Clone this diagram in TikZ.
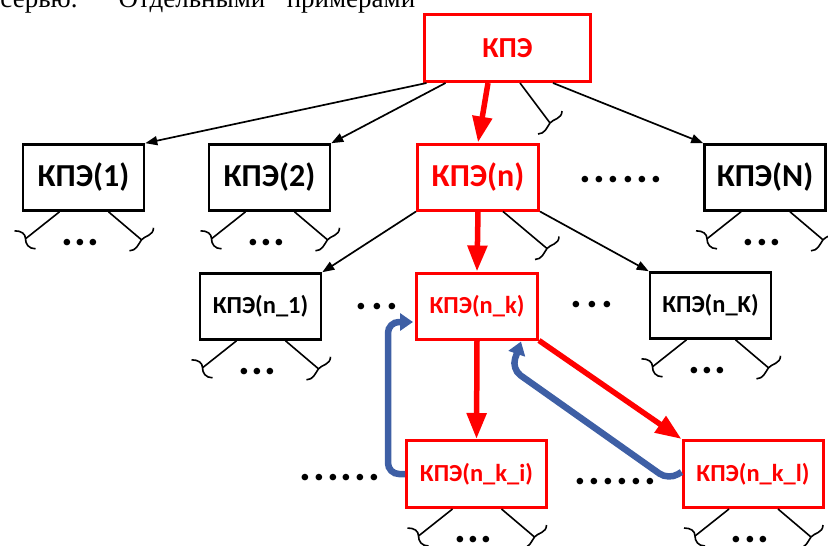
\documentclass[tikz,border=0pt]{standalone}
\usepackage{fontspec}
\setmainfont{Carlito}
\newfontfamily\serifface{Liberation Serif}
\usetikzlibrary{arrows.meta,calc}
\definecolor{kpred}{RGB}{255,0,0}
\definecolor{kpblue}{RGB}{62,95,165}

% a row of bold dots, #1 dots, #2 extra gap between them
\newcommand{\dotline}[2]{.\foreach\i in {2,...,#1}{\kern#2.}}

\tikzset{
  box/.style={draw=black, line width=2.6pt, minimum width=121pt, minimum height=66pt,
    inner sep=0pt, font=\bfseries\fontsize{32}{34}\selectfont},
  smallbox/.style={box, font=\bfseries\fontsize{24.5}{28}\selectfont},
  hot/.style={draw=kpred, text=kpred, line width=3pt},
  widebox/.style={minimum width=140pt, minimum height=67pt},
  link/.style={draw=black, line width=1.7pt, -{Triangle[length=12pt,width=9pt]}},
  hotlink/.style={draw=kpred, line width=5.5pt, -{Triangle[length=26pt,width=19pt]}},
  backlink/.style={draw=kpblue, line width=6.5pt, rounded corners=11pt,
    -{Triangle[length=13pt,width=17pt]}},
  twig/.style={draw=black, line width=1.6pt},
  dotrow/.style={inner sep=0pt, font=\bfseries\fontsize{44}{46}\selectfont},
  cutL/.pic={\draw[twig] (-11,-8) .. controls (-4,-8) and (0,-5) .. (0,0)
      .. controls (0,5) and (3,10) .. (10,10);},
  cutR/.pic={\draw[twig] (-12,11) .. controls (-5,11) and (-3,4) .. (0,0)
      .. controls (3,-4) and (12,-4) .. (12,-12);},
}

% the two cut-off sub-branches and the dots beneath a box
\newcommand{\subtree}[1]{%
  \draw[twig] ($(#1.south)+(-24,0)$) -- ($(#1.south)+(-58,27)$) pic{cutL};
  \draw[twig] ($(#1.south)+(25,0)$) -- ($(#1.south)+(58,28)$) pic{cutR};
  \node[dotrow] (#1-more) at ($(#1.south)+(-3,31)$) {\dotline{3}{1.5pt}};
}

\begin{document}
\begin{tikzpicture}[x=1pt,y=-1pt]
\useasboundingbox (0,0) rectangle (828,546);

% running text above the figure
\begin{scope}[every node/.style={anchor=base, inner sep=0pt,
    font=\serifface\fontsize{27}{30}\selectfont}]
  \node (w1) at (39,7) {серью.};
  \node (w2) at (192,7) {Отдельными};
  \node (w3) at (351,7) {примерами};
\end{scope}

% level 0
\node[box, hot, minimum width=166pt, minimum height=67pt,
  font=\bfseries\fontsize{29}{32}\selectfont] (top) at (507.5,48) {КПЭ};

% level 1
\node[box] (k1) at (83.5,177.5) {КПЭ(1)};
\node[box] (k2) at (269.5,177.5) {КПЭ(2)};
\node[box, hot] (kn) at (478,177) {КПЭ(n)};
\node[box] (kN) at (765,177.5) {КПЭ(N)};
\node[dotrow] (d1) at (621,180) {\dotline{6}{2.5pt}};

% level 2
\node[smallbox] (kn1) at (260.5,306.5) {КПЭ(n\_1)};
\node[smallbox, hot] (knk) at (477,306) {КПЭ(n\_k)};
\node[smallbox] (knK) at (710.5,305.5) {КПЭ(n\_K)};
\node[dotrow] (d2) at (377,307) {\dotline{3}{3.5pt}};
\node[dotrow] (d3) at (592,305) {\dotline{3}{3.5pt}};

% level 3
\node[smallbox, hot, widebox] (knki) at (476.5,474) {КПЭ(n\_k\_i)};
\node[smallbox, hot, widebox] (knkl) at (753,474) {КПЭ(n\_k\_l)};
\node[dotrow] (d4) at (340,478) {\dotline{6}{2pt}};
\node[dotrow] (d5) at (615.5,482) {\dotline{6}{2.2pt}};

% connectors from the root
\draw[link] ($(top.south)+(-81,0)$) -- (k1.north east);
\draw[link] ($(top.south)+(-62,0)$) -- (k2.north east);
\draw[hotlink] ($(top.south)+(-19.5,0)$) -- (kn.north);
\coordinate (topcut) at ($(top.south)+(42.5,40)$);
\draw[twig] ($(top.south)+(12.5,0)$) -- (topcut) pic at (topcut) {cutR};
\draw[link] ($(top.south)+(45.5,0)$) -- (kN.north west);

% connectors from КПЭ(n)
\draw[link] (kn.south west) -- (kn1.north east);
\draw[hotlink] (kn.south) -- (knk.north);
\coordinate (ncut) at ($(kn.south)+(69,37)$);
\draw[twig] ($(kn.south)+(25,0)$) -- (ncut) pic at (ncut) {cutR};
\draw[link] (kn.south east) -- (knK.north west);

% connectors from КПЭ(n_k)
\draw[hotlink] (knk.south) -- (knki.north);
\draw[hotlink] (knk.south east) -- (knkl.north west);

% return paths
\draw[backlink] (knki.west) -- ++(-17,0) |- ($(knk.west)+(-2,16)$);
\draw[backlink] ($(knkl.west)+(0,-2)$) -- ++(-13,8) -- ++(-157,-111) -- ($(knk.south)+(44,1)$);

% cut-off sub-branches
\subtree{k1}
\subtree{k2}
\subtree{kN}
\subtree{kn1}
\subtree{knK}
\subtree{knki}
\subtree{knkl}

\end{tikzpicture}
\end{document}
